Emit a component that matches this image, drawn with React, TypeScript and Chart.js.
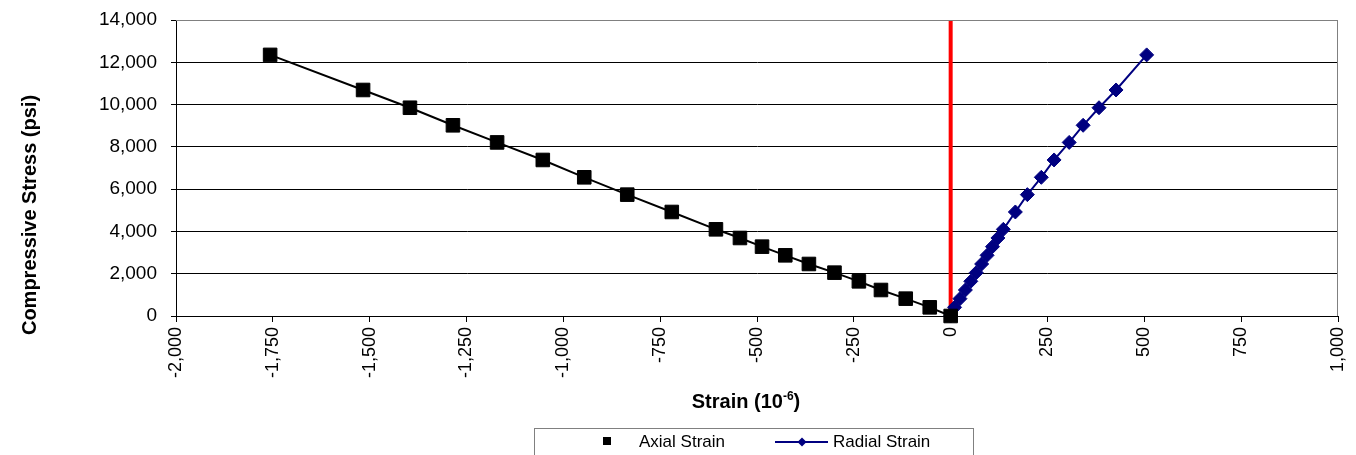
import React, { useEffect, useRef } from "react";
import { Chart, registerables } from "chart.js";

Chart.register(...registerables);

// ---- data ----
const stressPsi = [0, 410, 820, 1230, 1640, 2050, 2460, 2870, 3280, 3690, 4100, 4920, 5740, 6560, 7380, 8210, 9020, 9850, 10690, 12350];
const axialStrain = [0, -54, -116, -180, -237, -300, -366, -427, -487, -544, -606, -720, -835, -946, -1053, -1171, -1285, -1396, -1517, -1757];
const radialStrain = [0, 10, 24, 38, 52, 66, 80, 94, 108, 122, 136, 167, 198, 234, 267, 306, 342, 383, 427, 506];
const zeroLineX = [0, 0];
const zeroLineY = [0, 14000];
const seriesNames = ["Axial Strain", "Radial Strain"];
const xTitleParts = ["Strain (10", "-6", ")"];
const yTitle = "Compressive Stress (psi)";
const xMin = -2000;
const xMax = 1000;
const xStep = 250;
const yMin = 0;
const yMax = 14000;
const yStep = 2000;

const FONT = "'Liberation Sans', Arial, sans-serif";

const fmt = (v: number) => Number(v).toLocaleString("en-US");

const overlayPlugin = {
  id: "overlay",
  afterDraw(chart: any) {
    const { ctx, chartArea } = chart;
    ctx.save();
    // plot-area border (top & right)
    ctx.strokeStyle = "#808080";
    ctx.lineWidth = 1;
    ctx.beginPath();
    ctx.moveTo(chartArea.left, chartArea.top + 0.5);
    ctx.lineTo(chartArea.right - 0.5, chartArea.top + 0.5);
    ctx.lineTo(chartArea.right - 0.5, chartArea.bottom);
    ctx.stroke();

    // y title
    ctx.fillStyle = "#000";
    ctx.font = `bold 20px ${FONT}`;
    ctx.textAlign = "center";
    ctx.textBaseline = "middle";
    ctx.save();
    ctx.translate(30, 215);
    ctx.rotate(-Math.PI / 2);
    ctx.fillText(yTitle, 0, 0);
    ctx.restore();

    // x title with superscript
    const mainFont = `bold 20px ${FONT}`;
    const supFont = `bold 12px ${FONT}`;
    ctx.font = mainFont;
    const w0 = ctx.measureText(xTitleParts[0]).width;
    const w2 = ctx.measureText(xTitleParts[2]).width;
    ctx.font = supFont;
    const w1 = ctx.measureText(xTitleParts[1]).width;
    const total = w0 + w1 + w2;
    let x = 746 - total / 2;
    const baseY = 408;
    ctx.textAlign = "left";
    ctx.textBaseline = "alphabetic";
    ctx.font = mainFont;
    ctx.fillText(xTitleParts[0], x, baseY);
    x += w0;
    ctx.font = supFont;
    ctx.fillText(xTitleParts[1], x, baseY - 8);
    x += w1;
    ctx.font = mainFont;
    ctx.fillText(xTitleParts[2], x, baseY);

    // legend
    ctx.strokeStyle = "#808080";
    ctx.lineWidth = 1;
    ctx.strokeRect(534.5, 428.5, 439, 40);
    ctx.fillStyle = "#000";
    ctx.fillRect(603, 437, 8, 8);
    ctx.font = `17px ${FONT}`;
    ctx.textBaseline = "middle";
    ctx.fillText(seriesNames[0], 639, 442);
    ctx.strokeStyle = "#000080";
    ctx.lineWidth = 2;
    ctx.beginPath();
    ctx.moveTo(775, 442);
    ctx.lineTo(828, 442);
    ctx.stroke();
    ctx.fillStyle = "#000080";
    ctx.beginPath();
    ctx.moveTo(802, 437.5);
    ctx.lineTo(806.5, 442);
    ctx.lineTo(802, 446.5);
    ctx.lineTo(797.5, 442);
    ctx.closePath();
    ctx.fill();
    ctx.fillStyle = "#000";
    ctx.fillText(seriesNames[1], 833, 442);
    ctx.restore();
  },
};

export default function App() {
  const ref = useRef<HTMLCanvasElement | null>(null);

  useEffect(() => {
    if (!ref.current) return;
    const axialData = axialStrain.map((x, i) => ({ x, y: stressPsi[i] }));
    const radialData = radialStrain.map((x, i) => ({ x, y: stressPsi[i] }));
    const zeroData = zeroLineX.map((x, i) => ({ x, y: zeroLineY[i] }));

    const chart = new Chart(ref.current, {
      type: "scatter",
      data: {
        datasets: [
          {
            label: seriesNames[0],
            data: axialData,
            showLine: true,
            borderColor: "#000000",
            borderWidth: 2,
            backgroundColor: "#000000",
            pointStyle: "rect",
            pointRadius: 9.6,
            pointBorderWidth: 1,
            pointBorderColor: "#000000",
            pointBackgroundColor: "#000000",
            clip: false,
            order: 1,
          },
          {
            label: seriesNames[1],
            data: radialData,
            showLine: true,
            borderColor: "#000080",
            borderWidth: 2,
            backgroundColor: "#000080",
            pointStyle: "rectRot",
            pointRadius: 7,
            pointBorderWidth: 1,
            pointBorderColor: "#000080",
            pointBackgroundColor: "#000080",
            clip: false,
            order: 2,
          },
          {
            label: "zero",
            data: zeroData,
            showLine: true,
            borderColor: "#FF0000",
            borderWidth: 4,
            pointRadius: 0,
            clip: false,
            order: 3,
          },
        ],
      },
      options: {
        responsive: false,
        animation: false,
        devicePixelRatio: 1,
        layout: { padding: { top: 20, right: 18, left: 0, bottom: 35 } },
        plugins: {
          legend: { display: false },
          tooltip: { enabled: false },
        },
        scales: {
          x: {
            type: "linear",
            min: xMin,
            max: xMax,
            afterFit: (s: any) => {
              s.height = 104;
              s.paddingLeft = 0;
              s.paddingRight = 0;
            },
            ticks: {
              stepSize: xStep,
              autoSkip: false,
              minRotation: 90,
              maxRotation: 90,
              padding: 5,
              color: "#000",
              font: { family: FONT, size: 18 },
              callback: (v: any) => fmt(v),
            },
            grid: {
              display: true,
              drawOnChartArea: false,
              drawTicks: true,
              tickLength: 6,
              tickColor: "#000",
            },
            border: { display: true, color: "#000", width: 1 },
          },
          y: {
            type: "linear",
            min: yMin,
            max: yMax,
            afterFit: (s: any) => {
              s.width = 176;
              s.paddingTop = 0;
              s.paddingBottom = 0;
            },
            ticks: {
              stepSize: yStep,
              padding: 14,
              color: "#000",
              font: { family: FONT, size: 19 },
              callback: (v: any) => fmt(v),
            },
            grid: {
              color: (c: any) => (c.tick && c.tick.value === yMax ? "#808080" : "#000000"),
              lineWidth: 1,
              drawTicks: true,
              tickLength: 5,
              tickColor: "#000",
            },
            border: { display: true, color: "#000", width: 1 },
          },
        },
      },
      plugins: [overlayPlugin],
    });
    return () => chart.destroy();
  }, []);

  return (
    <div style={{ position: "absolute", left: 0, top: 0, width: 1356, height: 455, background: "#fff" }}>
      <canvas ref={ref} width={1356} height={455} style={{ display: "block" }} />
    </div>
  );
}
